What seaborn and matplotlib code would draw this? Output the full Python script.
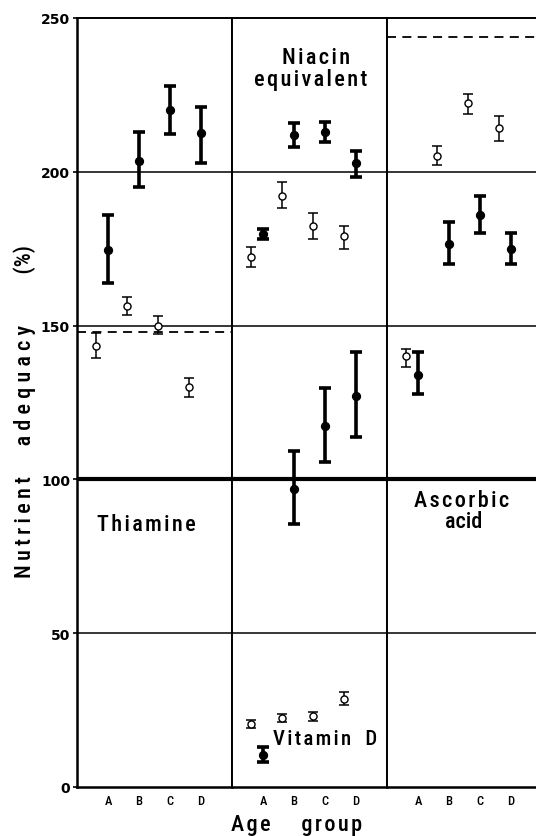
import numpy as np
import pandas as pd
import matplotlib
matplotlib.use("Agg")
import matplotlib.pyplot as plt
import seaborn as sns

# ---------------- data ----------------
groups = ["A", "B", "C", "D"]

thiamine_open_mean = [143.5, 156.3, 150.0, 130.0]
thiamine_open_low = [139.5, 153.4, 147.2, 126.8]
thiamine_open_high = [147.6, 159.3, 153.0, 133.0]
thiamine_filled_mean = [174.5, 203.5, 220.0, 212.5]
thiamine_filled_low = [164.0, 195.0, 212.3, 202.8]
thiamine_filled_high = [186.0, 213.0, 228.0, 221.0]

niacin_open_mean = [172.3, 192.2, 182.4, 179.0]
niacin_open_low = [169.0, 188.2, 178.2, 175.0]
niacin_open_high = [175.5, 196.7, 186.6, 182.4]
niacin_filled_mean = [179.8, 212.0, 213.0, 202.8]
niacin_filled_low = [178.3, 208.0, 209.7, 198.3]
niacin_filled_high = [181.3, 215.9, 216.2, 206.8]

vitd_open_mean = [20.5, 22.4, 23.0, 28.6]
vitd_open_low = [19.3, 21.0, 21.5, 26.7]
vitd_open_high = [21.7, 23.7, 24.5, 31.0]
vitd_filled_mean = [10.4, 97.0, 117.4, 127.0]
vitd_filled_low = [8.0, 85.5, 105.7, 113.8]
vitd_filled_high = [13.0, 109.3, 129.7, 141.4]

ascorbic_open_mean = [140.1, 205.2, 222.4, 214.2]
ascorbic_open_low = [136.5, 202.2, 218.8, 210.0]
ascorbic_open_high = [142.4, 208.4, 225.3, 218.2]
ascorbic_filled_mean = [133.9, 176.5, 186.0, 174.9]
ascorbic_filled_low = [127.8, 170.0, 180.1, 170.0]
ascorbic_filled_high = [141.4, 183.7, 192.1, 180.1]

thiamine_ref = 148.0
ascorbic_ref = 243.8

y_ticks = [0, 50, 100, 150, 200, 250]
minor_grid = [50, 150, 200]
main_line = 100

# ------------- build table -------------
rows = []
def add(panel, nutrient, kind, mean, low, high):
    for g, m, lo, hi in zip(groups, mean, low, high):
        rows.append(dict(panel=panel, nutrient=nutrient, kind=kind, group=g,
                         value=m, low=lo, high=hi))

add(0, "Thiamine", "open", thiamine_open_mean, thiamine_open_low, thiamine_open_high)
add(0, "Thiamine", "filled", thiamine_filled_mean, thiamine_filled_low, thiamine_filled_high)
add(1, "Niacin", "open", niacin_open_mean, niacin_open_low, niacin_open_high)
add(1, "Niacin", "filled", niacin_filled_mean, niacin_filled_low, niacin_filled_high)
add(1, "Vitamin D", "open", vitd_open_mean, vitd_open_low, vitd_open_high)
add(1, "Vitamin D", "filled", vitd_filled_mean, vitd_filled_low, vitd_filled_high)
add(2, "Ascorbic", "open", ascorbic_open_mean, ascorbic_open_low, ascorbic_open_high)
add(2, "Ascorbic", "filled", ascorbic_filled_mean, ascorbic_filled_low, ascorbic_filled_high)
df = pd.DataFrame(rows)
df["xpos"] = df["group"].map({g: i + 1 for i, g in enumerate(groups)}) + \
    np.where(df["kind"] == "open", -0.38, 0.0)

# ------------- style -------------
sns.set_style("white")
COND = ['Roboto Condensed', 'DejaVu Sans']
WT = 500
plt.rcParams['font.family'] = COND
for k in ["text.color", "axes.labelcolor", "xtick.color", "ytick.color", "axes.edgecolor"]:
    plt.rcParams[k] = "black"

W, H = 536, 837
fig = plt.figure(figsize=(W / 100, H / 100), dpi=100)
renderer = fig.canvas.get_renderer()

def text_w(s, fs):
    t = fig.text(0, 0, s, fontsize=fs, family=COND, fontweight=WT)
    w = t.get_window_extent(renderer=renderer).width
    t.remove()
    return w

SPACERS = ["", "\u200a", "\u2009", "\u2005", "\u2004", " "]
def spaced(words, fs, targets, gaps=None):
    parts = []
    for w, t in zip(words, targets):
        best = min(SPACERS, key=lambda sp: abs(text_w(sp.join(w), fs) - t))
        parts.append(best.join(w))
    if len(words) == 1:
        return parts[0]
    sw = text_w("a a", fs) - text_w("aa", fs)
    out = parts[0]
    for p, g in zip(parts[1:], gaps):
        out += " " * max(1, int(round(g / sw))) + p
    return out

left_px, top_px, bot_px = 77, 19, 788
unit = 31.0
pw = 5 * unit
panel_left = [left_px, left_px + pw, left_px + 2 * pw]
axes = []
for i, pl in enumerate(panel_left):
    width = pw if i < 2 else (W - pl)
    ax = fig.add_axes([pl / W, (H - bot_px) / H, width / W, (bot_px - top_px) / H])
    ax.set_xlim(0, width / unit)
    ax.set_ylim(0, 250)
    axes.append(ax)

for i, ax in enumerate(axes):
    sub = df[df["panel"] == i]
    for y in minor_grid:
        ax.axhline(y, color="black", lw=1.1, zorder=1)
    ax.axhline(main_line, color="black", lw=3.0, zorder=1)
    for kind in ["open", "filled"]:
        s = sub[sub["kind"] == kind]
        lw = 1.1 if kind == "open" else 2.6
        cap = 3.4 if kind == "open" else 4.3
        ax.errorbar(s["xpos"], s["value"],
                    yerr=[s["value"] - s["low"], s["high"] - s["value"]],
                    fmt="none", ecolor="black", elinewidth=lw, capsize=cap,
                    capthick=lw, zorder=2)
        sns.scatterplot(data=s, x="xpos", y="value", ax=ax, marker="o",
                        s=26 if kind == "open" else 32,
                        facecolor="white" if kind == "open" else "black",
                        edgecolor="black", linewidth=1.0, zorder=3, legend=False)
    ax.set_xticks(range(1, 5))
    ax.set_xticklabels(groups, fontsize=9, fontweight=WT, family=COND)
    ax.set_xlabel("")
    ax.set_ylabel("")
    ax.set_yticks(y_ticks)
    ax.tick_params(axis="x", length=0, pad=5)
    for sp in ax.spines.values():
        sp.set_color("black")
        sp.set_linewidth(1.4)
    ax.spines["bottom"].set_linewidth(1.8)
    if i > 0:
        ax.tick_params(axis="y", left=False, labelleft=False)
    else:
        ax.spines["left"].set_linewidth(1.8)
        ax.set_yticklabels([str(t) for t in y_ticks], fontsize=10,
                           fontweight="bold", family="DejaVu Sans")
        ax.tick_params(axis="y", length=3, width=1.2, pad=2, direction="out", left=True)
    if i == 2:
        ax.spines["right"].set_visible(False)

# reference (dashed) lines
axes[0].axhline(thiamine_ref, color="black", lw=1.3, ls=(0, (5, 3.5)), zorder=1)
axes[2].axhline(ascorbic_ref, color="black", lw=1.3, ls=(0, (5, 3.5)), zorder=1)

FS = 16
tkw = dict(fontsize=FS, fontweight=WT, color="black", family=COND, va="baseline")
axes[0].text(0.64, 83.5, spaced(["Thiamine"], FS, [98]), ha="left", **tkw)
axes[1].text(2.7, 235.4, spaced(["Niacin"], FS, [68]), ha="center", **tkw)
axes[1].text(2.55, 228.2, spaced(["equivalent"], FS, [113]), ha="center", **tkw)
axes[1].text(1.33, 14.0, spaced(["Vitamin", "D"], 15, [72, 11], [14]), ha="left",
             **{**tkw, "fontsize": 15})
axes[2].text(2.42, 91.4, spaced(["Ascorbic"], FS, [87]), ha="center", **tkw)
axes[2].text(2.48, 84.5, spaced(["acid"], FS, [40]), ha="center", **tkw)

fig.text(25 / W, 1 - 411 / H,
         spaced(["Nutrient", "adequacy", "(%)"], FS, [100, 118, 25], [30, 50]),
         rotation=90, ha="center", va="center", fontsize=FS, fontweight=WT,
         family=COND)
fig.text(297 / W, 1 - 831 / H, spaced(["Age", "group"], FS, [39, 60], [30]),
         ha="center", va="baseline", fontsize=FS, fontweight=WT, family=COND)

fig.savefig("out.png", dpi=100, facecolor="white")
